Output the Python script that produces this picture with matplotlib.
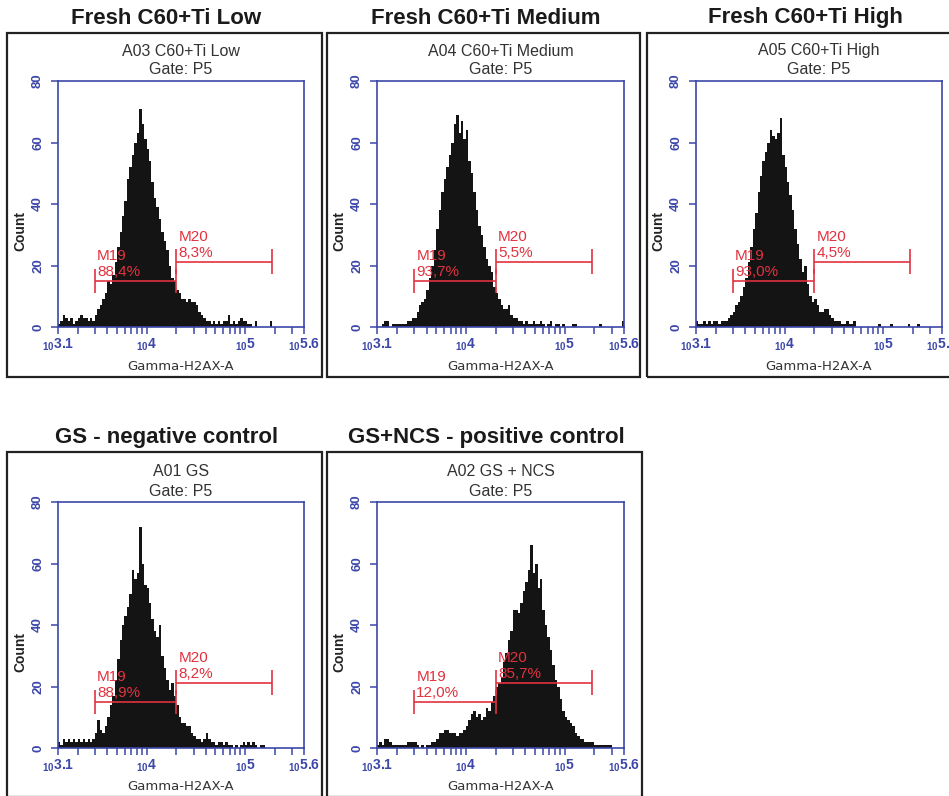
#!/usr/bin/env python3
# flow cytometry histograms - gamma-H2AX

import numpy as np
import matplotlib
matplotlib.use('Agg')
import matplotlib.pyplot as plt
from matplotlib.patches import Rectangle
from matplotlib.ticker import NullFormatter

plt.rcParams['font.family'] = ['Liberation Sans', 'DejaVu Sans']
plt.rcParams['mathtext.fontset'] = 'custom'
plt.rcParams['mathtext.rm'] = 'Liberation Sans:bold'
plt.rcParams['mathtext.it'] = 'Liberation Sans:bold:italic'
plt.rcParams['mathtext.bf'] = 'Liberation Sans:bold'

# ===== Dati =====
titles = ['Fresh C60+Ti Low', 'Fresh C60+Ti Medium', 'Fresh C60+Ti High',
          'GS - negative control', 'GS+NCS - positive control']
headers = ['A03 C60+Ti Low', 'A04 C60+Ti Medium', 'A05 C60+Ti High',
           'A01 GS', 'A02 GS + NCS']
gate = 'Gate: P5'
m19_pct = ['88,4%', '93,7%', '93,0%', '88,9%', '12,0%']
m20_pct = ['8,3%', '5,5%', '4,5%', '8,2%', '85,7%']

# marker ranges (channel values)
m19_range = [3000, 20000]
m20_range = [20000, 190000]

# histogram counts, 100 channels from 10^3.1 to 10^5.6
counts_low = [1, 2, 4, 3, 2, 3, 1, 2, 3, 4, 3, 3, 2, 3, 2,
              4, 6, 7, 9, 11, 15, 14, 17, 21, 26, 31, 36, 41, 48, 52,
              56, 60, 63, 71, 66, 61, 58, 54, 47, 42, 39, 35, 31, 28, 25,
              20, 16, 15, 12, 11, 9, 9, 8, 9, 8, 8, 7, 5, 4, 3,
              2, 2, 1, 2, 1, 2, 1, 2, 2, 4, 1, 2, 1, 2, 3,
              2, 2, 1, 1, 0, 2, 0, 0, 0, 0, 0, 2, 0, 0, 0,
              0, 0, 0, 0, 0, 0, 0, 0, 0, 0]
counts_medium = [0, 0, 1, 2, 2, 0, 1, 1, 1, 1, 1, 1, 2, 2, 3,
                 3, 5, 7, 8, 9, 12, 16, 20, 25, 32, 38, 44, 48, 52, 56,
                 60, 66, 69, 63, 67, 61, 64, 54, 50, 44, 38, 33, 30, 26, 22,
                 20, 18, 13, 11, 9, 7, 6, 6, 7, 4, 3, 3, 2, 2, 1,
                 2, 1, 1, 2, 1, 1, 2, 1, 0, 1, 2, 0, 1, 1, 0,
                 1, 0, 0, 0, 1, 1, 0, 0, 0, 0, 0, 0, 0, 0, 0,
                 1, 0, 0, 0, 0, 0, 0, 0, 0, 2]
counts_high = [2, 1, 1, 2, 1, 2, 1, 2, 2, 1, 2, 2, 2, 3, 4,
               5, 7, 8, 10, 13, 16, 21, 26, 32, 37, 44, 49, 54, 57, 60,
               64, 62, 61, 63, 68, 56, 52, 47, 43, 38, 32, 27, 22, 18, 20,
               14, 10, 8, 9, 7, 5, 5, 6, 6, 4, 3, 2, 2, 2, 1,
               1, 2, 1, 1, 2, 0, 0, 0, 0, 0, 0, 0, 0, 0, 1,
               0, 0, 0, 0, 1, 0, 0, 0, 0, 0, 0, 1, 0, 0, 0,
               1, 0, 0, 0, 0, 0, 0, 0, 0, 0]
counts_gs = [2, 1, 3, 2, 3, 2, 3, 2, 3, 2, 3, 2, 3, 2, 3,
             5, 9, 6, 5, 7, 10, 14, 17, 22, 29, 35, 40, 43, 46, 50,
             58, 55, 57, 72, 60, 53, 52, 47, 42, 38, 36, 40, 30, 26, 22,
             19, 21, 17, 14, 10, 8, 8, 7, 7, 5, 4, 3, 3, 2, 3,
             5, 3, 2, 2, 1, 2, 2, 1, 2, 1, 1, 0, 1, 0, 1,
             2, 1, 2, 1, 2, 1, 0, 1, 1, 0, 0, 0, 0, 0, 0,
             0, 0, 0, 0, 0, 0, 0, 0, 0, 0]
counts_ncs = [1, 2, 1, 3, 3, 2, 1, 1, 1, 1, 1, 1, 2, 2, 2,
              2, 1, 0, 1, 0, 1, 1, 2, 2, 3, 5, 5, 6, 6, 5,
              5, 5, 4, 5, 5, 6, 7, 9, 11, 12, 10, 11, 9, 10, 13,
              12, 15, 17, 20, 21, 23, 28, 31, 35, 38, 45, 45, 44, 47, 51,
              54, 58, 66, 57, 60, 52, 55, 45, 40, 36, 32, 27, 22, 20, 16,
              12, 10, 9, 8, 7, 5, 4, 3, 3, 2, 2, 2, 2, 1, 1,
              1, 1, 1, 1, 1, 0, 0, 0, 0, 0]
all_counts = [counts_low, counts_medium, counts_high, counts_gs, counts_ncs]

y_ticks = [0, 20, 40, 60, 80]
x_major = [10 ** 3.1, 1e4, 1e5, 10 ** 5.6]
x_major_labels = [r'$_{10}$3.1', r'$_{10}$4', r'$_{10}$5', r'$_{10}$5.6']

# ===== Layout (pixel) =====
W, H = 949, 796
BLUE = '#3c47a8'
RED = '#e0323f'
boxes = [(7, 33, 322, 377), (327, 33, 640, 377), (647, 33, 960, 377),
         (7, 452, 322, 797), (327, 452, 642, 797)]
axes_px = [(58, 81, 304, 327), (377, 81, 624, 327), (696, 81, 942, 327),
           (58, 502, 304, 748), (377, 502, 624, 748)]

edges = np.logspace(3.1, 5.6, len(counts_low) + 1)
minor = [k * 10 ** d for d in (3, 4, 5) for k in range(2, 10)
         if 10 ** 3.1 < k * 10 ** d < 10 ** 5.6]


def fx(px):
    return px / W


def fy(py):
    return 1 - py / H


fig = plt.figure(figsize=(W / 100, H / 100), dpi=100)

for i in range(5):
    bl, bt, br, bb = boxes[i]
    al, at, ar, ab = axes_px[i]
    fig.add_artist(Rectangle((fx(bl), fy(bb)), (br - bl) / W, (bb - bt) / H,
                             transform=fig.transFigure, fill=False,
                             lw=1.6, ec='#222222'))
    fig.text(fx((bl + br) / 2 + 2), fy(bt - 15), titles[i], ha='center',
             va='center', fontsize=16, weight='bold', color='#1a1a1a')
    cx = fx((al + ar) / 2)
    fig.text(cx, fy(at - 30), headers[i], ha='center', va='center',
             fontsize=11.5, color='#333333')
    fig.text(cx, fy(at - 11), gate, ha='center', va='center',
             fontsize=11.5, color='#333333')
    fig.text(fx(al - 38), fy(at + 150), 'Count', rotation=90, ha='center',
             va='center', fontsize=10, weight='bold', color='#222222')
    fig.text(cx, fy(ab + 39), 'Gamma-H2AX-A', ha='center', va='center',
             fontsize=9.5, family='DejaVu Sans', color='#333333')

    ax = fig.add_axes([fx(al), fy(ab), (ar - al) / W, (ab - at) / H])
    ax.stairs(all_counts[i], edges, fill=True, color='#141414', zorder=2)
    ax.set_xscale('log')
    ax.set_xlim(10 ** 3.1, 10 ** 5.6)
    ax.set_ylim(0, 80)
    for s in ax.spines.values():
        s.set_color(BLUE)
        s.set_linewidth(1.2)
    ax.set_yticks(y_ticks)
    ax.set_yticklabels([str(v) for v in y_ticks], rotation=90, va='center',
                       color=BLUE, fontsize=9.5, weight='bold')
    ax.set_xticks(x_major)
    ax.set_xticklabels(x_major_labels, color=BLUE, fontsize=10,
                       weight='bold')
    ax.set_xticks(minor, minor=True)
    ax.xaxis.set_minor_formatter(NullFormatter())
    ax.tick_params(axis='y', direction='out', length=5, width=1.1,
                   color=BLUE, pad=5)
    ax.tick_params(axis='x', which='both', direction='out', length=5,
                   width=1.1, color=BLUE, pad=2)

    # markers M19 / M20
    y19, y20 = 15, 21.3
    ax.hlines(y19, m19_range[0], m19_range[1], color=RED, lw=1.2, zorder=3)
    ax.vlines(m19_range, y19 - 4, y19 + 4, color=RED, lw=1.2, zorder=3)
    ax.hlines(y20, m20_range[0], m20_range[1], color=RED, lw=1.2, zorder=3)
    ax.vlines(m20_range, y20 - 4, y20 + 4, color=RED, lw=1.2, zorder=3)
    ax.text(3150, 23, 'M19', color=RED, fontsize=11, va='center', zorder=4)
    ax.text(3150, 18, m19_pct[i], color=RED, fontsize=11, va='center',
            zorder=4)
    ax.text(21200, 29.4, 'M20', color=RED, fontsize=11, va='center',
            zorder=4)
    ax.text(21200, 24.2, m20_pct[i], color=RED, fontsize=11, va='center',
            zorder=4)

plt.savefig('out.png', dpi=100)
